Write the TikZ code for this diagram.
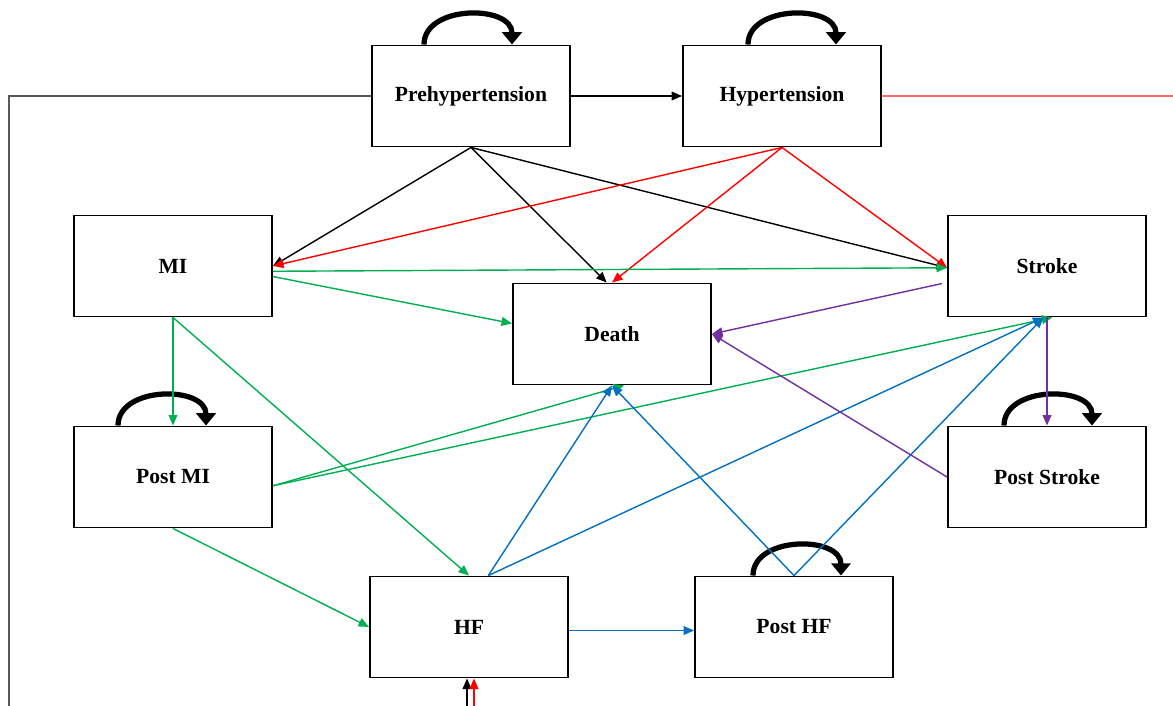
\documentclass[tikz,border=0pt]{standalone}
\usepackage{fontspec}
\setmainfont{Liberation Serif}
\usetikzlibrary{arrows.meta,calc}
\definecolor{grn}{HTML}{00B050}
\definecolor{blu}{HTML}{0070C0}
\definecolor{pur}{HTML}{7030A0}
\begin{document}
\begin{tikzpicture}[x=0.02cm,y=-0.02cm,
    state/.style={draw,line width=1.1pt,minimum width=3.96cm,minimum height=2.02cm,font=\fontsize{12.3}{14}\selectfont\bfseries},
    tr/.style={line width=0.8pt,-{Triangle[length=6pt,width=5pt]}},
    selfloop/.style={line width=3pt,-{Triangle[length=7pt,width=11pt]}}]
    \useasboundingbox (0,0) rectangle (1173,706);
    \node[state] (pre) at (471,96) {Prehypertension};
    \node[state] (hyp) at (782,96) {Hypertension};
    \node[state] (mi) at (173,266) {MI};
    \node[state] (stroke) at (1047,266) {Stroke};
    \node[state] (death) at (612,334) {Death};
    \node[state] (postmi) at (173,477) {Post MI};
    \node[state] (poststroke) at (1047,477) {Post Stroke};
    \node[state] (hf) at (469,627) {HF};
    \node[state] (posthf) at (794,627) {Post HF};
    \foreach \n/\dx in {pre/-3,hyp/10,postmi/-11,poststroke/1,posthf/3}
        \draw[selfloop] ($(\n.north)+(\dx-44,0)$) .. controls +(0,-40) and +(0,-40) .. ($(\n.north)+(\dx+44,0)$);
    \draw[gray!70!black,line width=0.6pt] (pre.west) -- (9,96) -- (9,706);
    \draw[red!60,line width=0.6pt] (hyp.east) -- (1173,96);
    \coordinate (inB) at (467,706);
    \coordinate (inR) at (474,706);
    \draw[tr] (inB) -- (inB |- hf.south);
    \draw[tr,red] (inR) -- (inR |- hf.south);
    \draw[tr] (pre.east) -- (hyp.west);
    \draw[tr] (pre.south) -- (mi.east);
    \draw[tr] (pre.south) -- ([xshift=-3pt]death.north);
    \draw[tr] (pre.south) -- ([yshift=-1pt]stroke.west);
    \draw[tr,red] (hyp.south) -- (mi.east);
    \draw[tr,red] (hyp.south) -- (death.north);
    \draw[tr,red] (hyp.south) -- ([yshift=-1pt]stroke.west);
    \draw[tr,grn] ([yshift=-3pt]mi.east) -- ([yshift=-1pt]stroke.west);
    \draw[tr,grn] ([yshift=-6pt]mi.east) -- ([yshift=6pt]death.west);
    \draw[tr,grn] (mi.south) -- (postmi.north);
    \draw[tr,grn] (mi.south) -- (hf.north);
    \draw[tr,grn] ([yshift=-5pt]postmi.east) -- ([xshift=7pt]death.south);
    \draw[tr,grn] ([yshift=-5pt]postmi.east) -- ([xshift=3pt]stroke.south);
    \draw[tr,grn] (postmi.south) -- (hf.west);
    \draw[tr,blu] ([xshift=11pt]hf.north) -- (death.south);
    \draw[tr,blu] ([xshift=11pt]hf.north) -- ([xshift=-2pt]stroke.south);
    \draw[tr,blu] ([yshift=-2pt]hf.east) -- ([yshift=-2pt]posthf.west);
    \draw[tr,blu] (posthf.north) -- (death.south);
    \draw[tr,blu] (posthf.north) -- ([xshift=-2pt]stroke.south);
    \draw[tr,pur] ([xshift=-3pt,yshift=-10pt]stroke.west) -- (death.east);
    \draw[tr,pur] (poststroke.west) -- (death.east);
    \draw[tr,pur] (stroke.south) -- (poststroke.north);
\end{tikzpicture}
\end{document}
